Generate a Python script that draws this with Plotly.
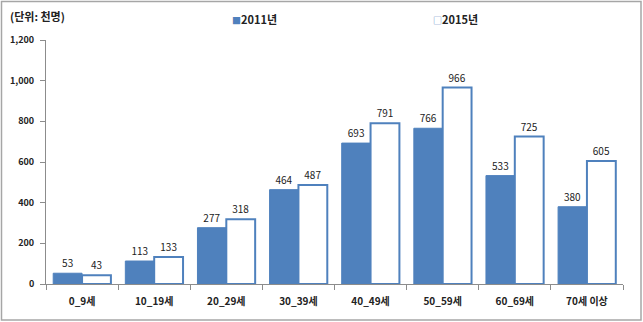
import plotly.graph_objects as go

# Age groups and values (unit: thousand people)
age_groups = ["0_9세", "10_19세", "20_29세", "30_39세", "40_49세", "50_59세", "60_69세", "70세 이상"]
values_2011 = [53, 113, 277, 464, 693, 766, 533, 380]
values_2015 = [43, 133, 318, 487, 791, 966, 725, 605]
y_ticks = [0, 200, 400, 600, 800, 1000, 1200]

BLUE = "#4F81BD"
FONT = "Noto Sans CJK KR"

W, H = 643, 322
ML, MR, MT, MB = 46, 20, 40, 38
PW, PH = W - ML - MR, H - MT - MB


def px_x(x):
    return (x - ML) / PW


def px_y(y):
    return (H - MB - y) / PH


fig = go.Figure()
fig.add_trace(go.Bar(
    x=age_groups, y=values_2011, name="2011년",
    marker=dict(color=BLUE, line=dict(color=BLUE, width=1)),
    text=values_2011, textposition="outside",
    textfont=dict(family=FONT, size=10, color="#222"),
    cliponaxis=False,
))
fig.add_trace(go.Bar(
    x=age_groups, y=values_2015, name="2015년",
    marker=dict(color="white", line=dict(color=BLUE, width=2)),
    text=values_2015, textposition="outside",
    textfont=dict(family=FONT, size=10, color="#222"),
    cliponaxis=False,
))

# outer frame around the whole chart
fig.add_shape(
    type="rect", xref="paper", yref="paper",
    x0=px_x(1.5), x1=px_x(W - 2), y0=px_y(H - 2), y1=px_y(1.5),
    line=dict(color="#A6A6A6", width=1.5), layer="above",
)

fig.add_annotation(
    text="<b>(단위: 천명)</b>", xref="paper", yref="paper",
    x=px_x(8), y=px_y(16), xanchor="left", yanchor="middle",
    showarrow=False, font=dict(family=FONT, size=11, color="#222"),
)

# series key: filled square for 2011, outlined square for 2015
legend_items = [("■", "2011년", 230), ("□", "2015년", 431)]
for sym, label, xpos in legend_items:
    fig.add_annotation(
        text=f"<span style='color:{BLUE};font-size:9px'>{sym}</span><b>{label}</b>",
        xref="paper", yref="paper", x=px_x(xpos), y=px_y(19),
        xanchor="left", yanchor="middle", showarrow=False,
        font=dict(family=FONT, size=11, color="#222"),
    )

fig.update_layout(
    width=W, height=H,
    margin=dict(l=ML, r=MR, t=MT, b=MB, autoexpand=False),
    paper_bgcolor="white", plot_bgcolor="white",
    barmode="group", bargap=0.2, bargroupgap=0,
    font=dict(family=FONT, color="#222"),
    showlegend=False,
    xaxis=dict(
        showline=True, linecolor="#8C8C8C", linewidth=1,
        ticks="outside", tickson="boundaries", ticklen=5, tickcolor="#8C8C8C",
        tickfont=dict(family=FONT, size=10, color="#222", weight="bold"),
        ticklabelstandoff=8,
        showgrid=False,
    ),
    yaxis=dict(
        range=[0, 1200], tickvals=y_ticks, tickformat=",",
        showline=True, linecolor="#8C8C8C", linewidth=1,
        ticks="outside", ticklen=5, tickcolor="#8C8C8C",
        tickfont=dict(family=FONT, size=9, color="#222", weight="bold"),
        ticklabelstandoff=4,
        showgrid=False, zeroline=False,
    ),
)

fig.write_html("out.html")
